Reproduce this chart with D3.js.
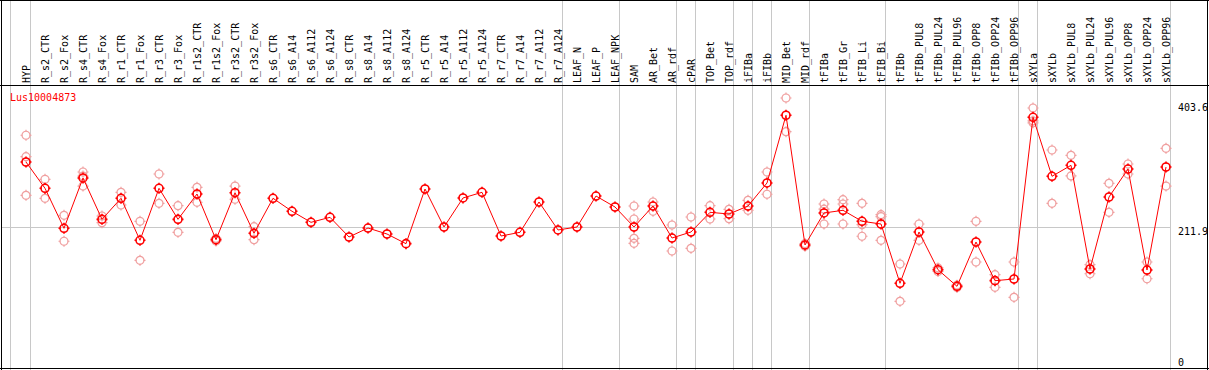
<!DOCTYPE html>
<html>
<head>
<meta charset="utf-8">
<script src="https://cdn.jsdelivr.net/npm/d3@7"></script>
<style>
  html, body { margin: 0; padding: 0; background: #fff; }
  svg { display: block; }
  text { font-family: "DejaVu Sans Mono", "Liberation Mono", monospace; font-size: 10px; }
</style>
</head>
<body>
<svg id="chart" width="1209" height="370"></svg>
<script>
const title = "Lus10004873";

const categories = ["HYP","R_s2_CTR","R_s2_Fox","R_s4_CTR","R_s4_Fox","R_r1_CTR","R_r1_Fox","R_r3_CTR","R_r3_Fox",
  "R_r1s2_CTR","R_r1s2_Fox","R_r3s2_CTR","R_r3s2_Fox","R_s6_CTR","R_s6_A14","R_s6_A112","R_s6_A124",
  "R_s8_CTR","R_s8_A14","R_s8_A112","R_s8_A124","R_r5_CTR","R_r5_A14","R_r5_A112","R_r5_A124",
  "R_r7_CTR","R_r7_A14","R_r7_A112","R_r7_A124","LEAF_N","LEAF_P","LEAF_NPK","SAM","AR_Bet","AR_rdf",
  "cPAR","TOP_Bet","TOP_rdf","iFIBa","iFIBb","MID_Bet","MID_rdf","tFIBa","tFIB_Gr","tFIB_Li","tFIB_Bi",
  "tFIBb","tFIBb_PUL8","tFIBb_PUL24","tFIBb_PUL96","tFIBb_OPP8","tFIBb_OPP24","tFIBb_OPP96",
  "sXYLa","sXYLb","sXYLb_PUL8","sXYLb_PUL24","sXYLb_PUL96","sXYLb_OPP8","sXYLb_OPP24","sXYLb_OPP96"];

const means = [312.7,272.2,210.6,288.1,224.4,256.8,192.1,272.2,224.4,
  263.4,193.0,265.4,202.9,256.8,236.8,219.8,227.5,
  197.2,211.0,201.8,186.9,271.1,212.6,257.3,266.0,
  198.7,204.4,251.1,208.0,212.6,260.3,243.4,212.6,244.9,195.6,
  204.9,235.2,232.6,244.9,280.4,384.7,184.9,234.2,238.3,221.4,217.2,
  125.9,204.9,146.8,121.2,189.5,129.9,132.5,
  381.6,290.7,307.6,147.9,258.8,301.9,146.3,305.0];

const replicates = [
  [353.9,320.9,261.4],[286.1,256.8],[230.6,190.6],[297.3,291.0,275.7],[229.5,219.2],[266.0,246.5],
  [221.4,161.3],[294.2,249.1],[245.4,204.4],[273.7,250.6],[195.0,191.0],[275.7,255.3],[213.1,193.0],
  [],[],[],[],[],[],[],[],[],[],[],[],[],[],[],[],[],[],[],
  [244.9,224.9,195.2,187.5],[251.1,236.8],[215.7,175.6],[228.0,179.8],[245.4,224.9],[239.8,225.4],
  [253.7,238.3],[297.3,263.0],[411.3,359.4],[187.0,183.0],[248.0,240.0,217.2],[254.6,248.0,217.2],
  [249.1,216.1,198.3],[231.5,228.5,192.1],[155.6,98.1],[217.2,192.1],[149.5,144.0],[123.0,119.5],
  [221.4,158.7],[139.1,119.7],[158.7,104.3],[395.9,376.0,373.0],[331.2,249.1],[323.0,291.2],
  [154.5,140.6],[279.9,235.2],[309.6,294.2],[158.7,132.9],[333.8,275.7]];

// indices of the last category of each group (separator drawn after them)
const groupEnds = ["HYP","R_r7_A124","LEAF_NPK","AR_rdf","cPAR","TOP_rdf","iFIBa","iFIBb","MID_rdf","tFIB_Bi","tFIBb_OPP96","sXYLa","sXYLb_OPP96"];

const yTicks = [0, 211.9, 403.6];

const W = 1209, H = 370;
const svg = d3.select("#chart");

const x = d3.scalePoint().domain(categories).range([26, 1166]);
const y = d3.scaleLinear().domain([0, 403.6]).range([365, 103]);

// white background
svg.append("rect").attr("width", W).attr("height", H).attr("fill", "#fff");

// grey group separators (full height)
const sep = svg.append("g").attr("stroke", "#c8c8c8").attr("stroke-width", 1).attr("shape-rendering", "crispEdges");
sep.append("line").attr("x1", 10.5).attr("x2", 10.5).attr("y1", 0).attr("y2", H);
sep.selectAll("line.g").data(groupEnds).join("line").attr("class", "g")
  .attr("x1", d => Math.round(x(d) + 4) + 0.5).attr("x2", d => Math.round(x(d) + 4) + 0.5)
  .attr("y1", 0).attr("y2", H);

// horizontal grey gridline at middle tick
svg.append("line").attr("stroke", "#c8c8c8").attr("shape-rendering", "crispEdges")
  .attr("x1", 1).attr("x2", Math.round(x("sXYLb_OPP96") + 4) + 0.5)
  .attr("y1", Math.round(y(211.9)) + 0.5).attr("y2", Math.round(y(211.9)) + 0.5);

// black frame lines
const frame = svg.append("g").attr("stroke", "#000").attr("stroke-width", 1).attr("shape-rendering", "crispEdges");
frame.append("line").attr("x1", 0).attr("x2", W).attr("y1", 0.5).attr("y2", 0.5);
frame.append("line").attr("x1", 0).attr("x2", W).attr("y1", 85.5).attr("y2", 85.5);
frame.append("line").attr("x1", 0).attr("x2", W).attr("y1", 368.5).attr("y2", 368.5);
frame.append("line").attr("x1", 1.5).attr("x2", 1.5).attr("y1", 0).attr("y2", H);
frame.append("line").attr("x1", 1207.5).attr("x2", 1207.5).attr("y1", 0).attr("y2", H);

// category labels, rotated
svg.append("g").selectAll("text").data(categories).join("text")
  .attr("transform", d => `translate(${x(d) + 4},83) rotate(-90)`)
  .attr("text-anchor", "start")
  .attr("fill", "#000")
  .text(d => d);

// y axis labels on the right
svg.append("g").selectAll("text").data(yTicks).join("text")
  .attr("x", 1178)
  .attr("y", d => Math.min(y(d) + 8, 366))
  .attr("fill", "#000")
  .text(d => d === 0 ? "0" : d3.format(".1f")(d));

// title
svg.append("text").attr("x", 10).attr("y", 101).attr("fill", "#ff0000").text(title);

// marker with little stubs (mimic reference glyph)
function marker(g, r) {
  g.append("circle").attr("r", r).attr("fill", "none");
  g.append("path").attr("d", `M0,${-r-1.5}V${-r+0.5}M0,${r-0.5}V${r+1.5}M${-r-1.5},0H${-r+0.5}M${r-0.5},0H${r+1.5}`);
}

// replicate points
const repData = [];
categories.forEach((c, i) => replicates[i].forEach(v => repData.push({c, v})));
svg.append("g").attr("stroke", "#f0a0a0").attr("stroke-width", 1.2)
  .selectAll("g").data(repData).join("g")
  .attr("transform", d => `translate(${x(d.c)},${y(d.v)})`)
  .each(function() { marker(d3.select(this), 4); });

// mean line
const line = d3.line().x((d, i) => x(categories[i])).y(d => y(d));
svg.append("path").datum(means).attr("d", line)
  .attr("fill", "none").attr("stroke", "#ff0000").attr("stroke-width", 1);

// mean points
svg.append("g").attr("stroke", "#ff0000").attr("stroke-width", 1.6)
  .selectAll("g").data(means).join("g")
  .attr("transform", (d, i) => `translate(${x(categories[i])},${y(d)})`)
  .each(function() { marker(d3.select(this), 4); });
</script>
</body>
</html>
